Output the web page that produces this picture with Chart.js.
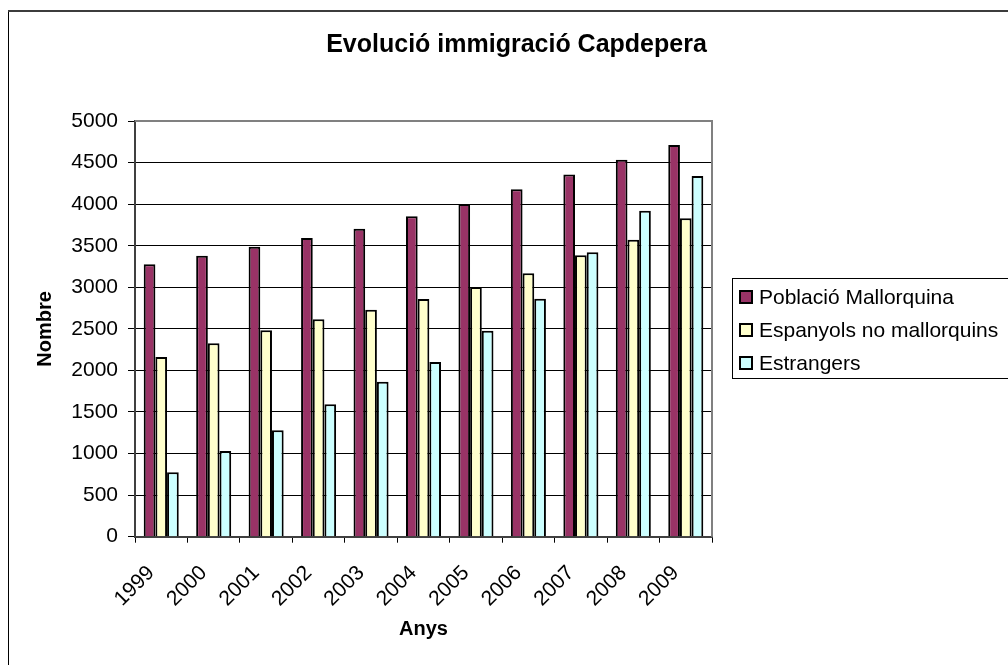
<!DOCTYPE html>
<html>
<head>
<meta charset="utf-8">
<script src="https://cdn.jsdelivr.net/npm/chart.js@4/dist/chart.umd.min.js"></script>
<style>
  html, body { margin: 0; padding: 0; background: #fff; overflow: hidden; }
  canvas { display: block; }
</style>
</head>
<body>
<canvas id="grafic" width="1008" height="665"></canvas>
<script>
// Dades llegides del gràfic
const anys = ['1999', '2000', '2001', '2002', '2003', '2004', '2005', '2006', '2007', '2008', '2009'];
const poblacioMallorquina = [3276, 3380, 3488, 3593, 3705, 3853, 4002, 4178, 4358, 4535, 4711];
const espanyolsNoMallorquins = [2161, 2326, 2482, 2614, 2731, 2859, 3003, 3168, 3384, 3573, 3829];
const estrangers = [774, 1030, 1279, 1592, 1865, 2101, 2478, 2863, 3420, 3921, 4338];
const ticksY = [0, 500, 1000, 1500, 2000, 2500, 3000, 3500, 4000, 4500, 5000];

const FONT = "'Liberation Sans', Arial, sans-serif";

// marc exterior, vora de l'àrea del gràfic i llegenda amb requadre
const marc = {
  id: 'marc',
  afterLayout(chart) {
    // el títol queda centrat sobre gràfic + llegenda
    const t = chart.titleBlock;
    if (t) { t.left = 8; t.right = 1025; }
  },
  beforeDraw(chart) {
    const c = chart.ctx;
    c.save();
    c.fillStyle = '#fff';
    c.fillRect(0, 0, chart.width, chart.height);
    c.strokeStyle = '#000';
    c.lineWidth = 1;
    c.beginPath();
    c.moveTo(8.5, chart.height);
    c.lineTo(8.5, 11);
    c.stroke();
    c.strokeStyle = '#3c3c3c';
    c.lineWidth = 2;
    c.beginPath();
    c.moveTo(8, 11);
    c.lineTo(chart.width, 11);
    c.stroke();
    c.restore();
  },
  beforeDatasetsDraw(chart) {
    const {ctx: c, chartArea: a} = chart;
    c.save();
    c.strokeStyle = '#808080';
    c.lineWidth = 2;
    c.beginPath();
    c.moveTo(a.left, a.top);
    c.lineTo(a.right, a.top);
    c.lineTo(a.right, a.bottom);
    c.stroke();
    c.restore();
  },
  afterDraw(chart) {
    const {ctx: c, chartArea: a, data} = chart;
    const x0 = Math.round(a.right + 20);
    const y0 = Math.round((a.top + a.bottom) / 2 - 51);
    c.save();
    c.strokeStyle = '#000';
    c.lineWidth = 1;
    c.strokeRect(x0 + 0.5, y0 + 0.5, chart.width, 100);
    c.font = '21px ' + FONT;
    c.textBaseline = 'middle';
    c.textAlign = 'left';
    data.datasets.forEach((ds, i) => {
      const cy = y0 + 19 + i * 33;
      c.fillStyle = ds.backgroundColor;
      c.fillRect(x0 + 8, cy - 6, 12, 12);
      c.lineWidth = 2;
      c.strokeRect(x0 + 8, cy - 6, 12, 12);
      c.fillStyle = '#000';
      c.fillText(ds.label, x0 + 27, cy + 1);
    });
    c.restore();
  }
};

const ctx = document.getElementById('grafic').getContext('2d');
const grafic = new Chart(ctx, {
  type: 'bar',
  data: {
    labels: anys,
    datasets: [{
      label: 'Població Mallorquina',
      data: poblacioMallorquina,
      backgroundColor: '#993366',
      borderColor: '#000',
      borderWidth: 2
    }, {
      label: 'Espanyols no mallorquins',
      data: espanyolsNoMallorquins,
      backgroundColor: '#ffffcc',
      borderColor: '#000',
      borderWidth: 2
    }, {
      label: 'Estrangers',
      data: estrangers,
      backgroundColor: '#ccffff',
      borderColor: '#000',
      borderWidth: 2
    }]
  },
  options: {
    responsive: false,
    animation: false,
    devicePixelRatio: 1,
    datasets: {
      bar: { barPercentage: 1, categoryPercentage: 0.668 }
    },
    layout: { padding: { left: 8, top: 10, right: 296, bottom: 0 } },
    plugins: {
      legend: { display: false },
      tooltip: { enabled: false },
      title: {
        display: true,
        text: 'Evolució immigració Capdepera',
        color: '#000',
        font: { family: FONT, size: 25, weight: 'bold' },
        padding: { top: 20, bottom: 61 }
      }
    },
    scales: {
      x: {
        afterFit(scale) { scale.height = 128.3; },
        grid: { display: true, drawOnChartArea: false, offset: true, tickLength: 6, color: '#000' },
        border: { color: '#404040', width: 2 },
        ticks: {
          color: '#000',
          font: { family: FONT, size: 21 },
          minRotation: 45,
          maxRotation: 45,
          padding: 18,
          labelOffset: -10,
          autoSkip: false
        },
        title: {
          display: true,
          text: 'Anys',
          color: '#000',
          font: { family: FONT, size: 20, weight: 'bold' },
          padding: { top: 0, bottom: 24 }
        }
      },
      y: {
        min: 0,
        max: 5000,
        afterFit(scale) { scale.width = 127; },
        afterBuildTicks(scale) { scale.ticks = ticksY.map(v => ({ value: v })); },
        grid: { color: '#000', lineWidth: 1, tickLength: 7 },
        border: { color: '#404040', width: 2 },
        ticks: {
          color: '#000',
          font: { family: FONT, size: 21 },
          padding: 10,
          callback: v => String(v)
        },
        title: {
          display: true,
          text: 'Nombre',
          color: '#000',
          font: { family: FONT, size: 20, weight: 'bold' },
          padding: { top: 25, bottom: 0 }
        }
      }
    }
  },
  plugins: [marc]
});
</script>
</body>
</html>
